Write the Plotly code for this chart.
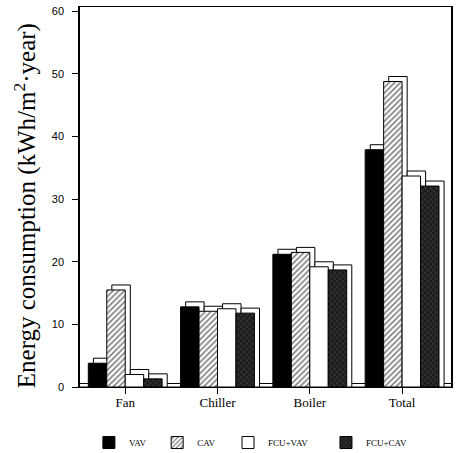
import plotly.graph_objects as go

# Annual energy use per floor area, by component and system type
categories = ["Fan", "Chiller", "Boiler", "Total"]
systems = ["VAV", "CAV", "FCU+VAV", "FCU+CAV"]
vav = [3.8, 12.8, 21.2, 37.9]
cav = [15.5, 12.1, 21.5, 48.8]
fcu_vav = [2.0, 12.5, 19.2, 33.7]
fcu_cav = [1.3, 11.8, 18.7, 32.1]
y_ticks = [0, 10, 20, 30, 40, 50, 60]
y_title = "Energy consumption (kWh/m<sup>2</sup>·year)"

series = [vav, cav, fcu_vav, fcu_cav]

# fill style per system
styles = [
    dict(color="black", pattern=dict(shape="")),
    dict(color="white", pattern=dict(shape="/", fgcolor="black", size=4, solidity=0.4, fillmode="overlay")),
    dict(color="white", pattern=dict(shape="")),
    dict(color="#1c1c1c", pattern=dict(shape="x", fgcolor="#9a9a9a", size=4, solidity=0.18, fillmode="overlay")),
]

# one legend box per system so each entry sits at its own spot
legend_ids = ["legend", "legend2", "legend3", "legend4"]
legend_x = [0.024, 0.208, 0.399, 0.663]

bar_w = 0.2          # bar width in category units
depth_x = 0.055      # pseudo-3D depth, horizontal (category units)
depth_y = 0.8        # pseudo-3D depth, vertical (data units)

fig = go.Figure()

# back faces: give each bar a raised, shifted outline for a 3D look
for i, vals in enumerate(series):
    fig.add_trace(go.Bar(
        x=categories, y=[v + depth_y for v in vals],
        offset=-0.4 + i * bar_w + depth_x, width=bar_w,
        marker=dict(color="white", line=dict(color="black", width=1)),
        showlegend=False, hoverinfo="skip",
    ))

# front faces
for i, (name, vals) in enumerate(zip(systems, series)):
    st = styles[i]
    fig.add_trace(go.Bar(
        x=categories, y=vals, name=name, legend=legend_ids[i],
        offset=-0.4 + i * bar_w, width=bar_w,
        marker=dict(color=st["color"], pattern=st["pattern"],
                    line=dict(color="black", width=1)),
    ))

# floor strip seen between the groups
fig.add_shape(type="rect", xref="x", yref="y",
              x0=-0.5, x1=len(categories) - 0.4, y0=0, y1=depth_y * 0.7,
              fillcolor="white", line=dict(color="black", width=1), layer="below")

# vertical axis title
fig.add_annotation(text=y_title, textangle=-90,
                   xref="paper", yref="paper", x=-0.148, y=0.476,
                   xanchor="center", yanchor="middle", showarrow=False,
                   font=dict(family="Liberation Serif", size=25, color="black"))

legend_style = dict(orientation="h", xanchor="left", y=-0.108, yanchor="top",
                    font=dict(family="Liberation Serif", size=9, color="black"),
                    itemwidth=30, bgcolor="rgba(0,0,0,0)")

fig.update_layout(
    barmode="overlay",
    width=459, height=453,
    margin=dict(l=80, r=8, t=7, b=66, autoexpand=False),
    paper_bgcolor="white", plot_bgcolor="white",
    showlegend=True,
    **{lid: dict(legend_style, x=lx) for lid, lx in zip(legend_ids, legend_x)},
)

fig.update_xaxes(
    range=[-0.49, 3.53],
    showline=True, linecolor="black", linewidth=1, mirror=True,
    ticks="outside", ticklen=6, tickcolor="black",
    tickfont=dict(family="Liberation Serif", size=13, color="black"),
    ticklabelstandoff=-3,
    showgrid=False, zeroline=False, automargin=False,
)

fig.update_yaxes(
    range=[0, 60.7],
    tickvals=y_ticks,
    showline=True, linecolor="black", linewidth=1.5, mirror=True,
    ticks="outside", ticklen=6, tickcolor="black",
    tickfont=dict(family="Liberation Sans", size=11, color="black"),
    ticklabelstandoff=6,
    showgrid=False, zeroline=False, automargin=False,
)

fig.write_html("out.html")
